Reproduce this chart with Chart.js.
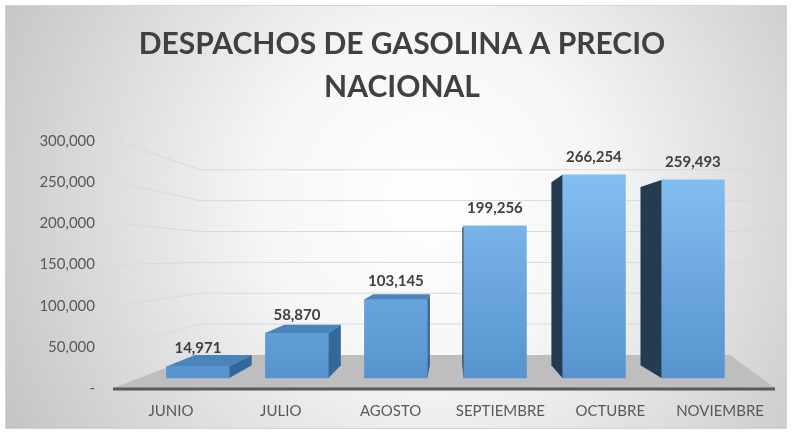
<!DOCTYPE html>
<html>
<head>
<meta charset="utf-8">
<script src="https://cdn.jsdelivr.net/npm/chart.js@4"></script>
<style>
  html, body { margin: 0; padding: 0; background: #fff; }
  #wrap { width: 794px; height: 434px; }
</style>
</head>
<body>
<div id="wrap"><canvas id="despachos" width="794" height="434"></canvas></div>
<script>
// datos del grafico
const meses = ['JUNIO', 'JULIO', 'AGOSTO', 'SEPTIEMBRE', 'OCTUBRE', 'NOVIEMBRE'];
const despachos = [14971, 58870, 103145, 199256, 266254, 259493];
const ticksY = [0, 50000, 100000, 150000, 200000, 250000, 300000];
const titulo = ['DESPACHOS DE GASOLINA A PRECIO', 'NACIONAL'];

const fmt = v => v.toLocaleString('en-US');

// punto de fuga para el efecto 3D
const VP = { x: 452, y: 250 };
const PROF = 0.9;      // profundidad de las barras
const WALL = 0.75;     // profundidad de las paredes

function fuga(x, y, k) {
    return [VP.x + (x - VP.x) * k, VP.y + (y - VP.y) * k];
}

// fondo, paredes, piso y lineas de division
const fondo3d = {
    id: 'fondo3d',
    beforeDraw(chart) {
        const c = chart.ctx;
        c.save();
        c.fillStyle = '#fff';
        c.fillRect(0, 0, chart.width, chart.height);
        const g = c.createRadialGradient(430, 200, 0, 430, 200, 480);
        g.addColorStop(0, '#ffffff');
        g.addColorStop(0.35, '#f6f6f6');
        g.addColorStop(1, '#c4c4c4');
        c.fillStyle = g;
        c.fillRect(5, 5, 782, 424);
        c.strokeStyle = '#d4d4d4';
        c.lineWidth = 1;
        c.strokeRect(5.5, 5.5, 781, 423);
        c.restore();
    },
    beforeDatasetsDraw(chart) {
        const c = chart.ctx;
        const a = chart.chartArea;
        const y = chart.scales.y;
        const wy = 256;
        const backX = x => 200 + (x - a.left) * (530 / (a.right - a.left));
        c.save();
        // lineas de division
        c.strokeStyle = '#d9d9d9';
        c.lineWidth = 1;
        y.ticks.forEach(t => {
            if (t.value === 0) return;
            const fy = y.getPixelForValue(t.value);
            const by = wy + (fy - wy) * WALL;
            c.beginPath();
            c.moveTo(a.left, fy);
            c.lineTo(backX(a.left), by);
            c.lineTo(a.right + 5, by);
            c.stroke();
        });
        // piso
        const fy0 = y.getPixelForValue(0);
        const by0 = wy + (fy0 - wy) * WALL;
        c.fillStyle = '#bebebe';
        c.beginPath();
        c.moveTo(a.left - 3, fy0);
        c.lineTo(backX(a.left), by0);
        c.lineTo(backX(a.right), by0);
        c.lineTo(a.right, fy0);
        c.closePath();
        c.fill();
        c.strokeStyle = '#595959';
        c.lineWidth = 3;
        c.beginPath();
        c.moveTo(a.left - 3, fy0 + 1);
        c.lineTo(a.right, fy0 + 1);
        c.stroke();
        c.restore();
    },
    afterDatasetsDraw(chart) {
        const c = chart.ctx;
        const barras = chart.getDatasetMeta(0).data;
        c.save();
        barras.forEach((b, i) => {
            const L = b.x - b.width / 2, R = b.x + b.width / 2;
            const T = b.y, B = b.base;
            const [Lb, Tb] = fuga(L, T, PROF);
            const [Rb, Bb] = fuga(R, B, PROF);
            // cara superior
            if (T > VP.y) {
                c.fillStyle = '#4a84bd';
                c.beginPath();
                c.moveTo(L, T); c.lineTo(R, T); c.lineTo(Rb, Tb); c.lineTo(Lb, Tb);
                c.closePath(); c.fill();
            }
            // cara lateral derecha
            if (R < VP.x) {
                c.fillStyle = '#34679a';
                c.beginPath();
                c.moveTo(R, T); c.lineTo(Rb, Tb); c.lineTo(Rb, Bb); c.lineTo(R, B);
                c.closePath(); c.fill();
            }
            // cara lateral izquierda
            if (L > VP.x) {
                const [, Bl] = fuga(L, B, PROF);
                c.fillStyle = '#243b52';
                c.beginPath();
                c.moveTo(L, T); c.lineTo(Lb, Tb); c.lineTo(Lb, Bl); c.lineTo(L, B);
                c.closePath(); c.fill();
            }
            // etiqueta de valor
            c.fillStyle = '#404040';
            c.font = 'bold 15px Lato, sans-serif';
            c.textAlign = 'center';
            c.textBaseline = 'middle';
            c.fillText(fmt(despachos[i]), b.x, T - 18);
        });
        c.restore();
    }
};

new Chart(document.getElementById('despachos'), {
    type: 'bar',
    data: {
        labels: meses,
        datasets: [{
            data: despachos.map((v, i) => ({ x: i, y: v })),
            xAxisID: 'xBarras',
            yAxisID: 'yBarras',
            barThickness: 63,
            backgroundColor: ctx => {
                const area = ctx.chart.chartArea;
                if (!area) return '#5b9bd5';
                const g = ctx.chart.ctx.createLinearGradient(0, area.top, 0, area.bottom);
                g.addColorStop(0, '#8ac6f7');
                g.addColorStop(1, '#5591cc');
                return g;
            }
        }]
    },
    options: {
        responsive: false,
        animation: false,
        layout: { padding: { left: 29, right: 19, top: 0, bottom: 0 } },
        plugins: {
            legend: { display: false },
            tooltip: { enabled: false },
            title: {
                display: true,
                text: titulo,
                color: '#404040',
                font: { family: 'Lato', size: 30, weight: 'bold', lineHeight: 43 / 30 },
                padding: { top: 23, bottom: 32 }
            }
        },
        scales: {
            x: {
                type: 'category',
                labels: meses,
                offset: true,
                grid: { display: false, drawTicks: false },
                border: { display: false },
                ticks: { color: '#595959', font: { family: 'Lato', size: 15 }, padding: 14 },
                afterFit: s => { s.height = 46; }
            },
            y: {
                min: 0,
                max: 300000,
                afterBuildTicks: s => { s.ticks = ticksY.map(v => ({ value: v })); },
                grid: { display: false, drawTicks: false },
                border: { display: false },
                ticks: {
                    color: '#595959',
                    font: { family: 'Lato', size: 15 },
                    padding: 21,
                    callback: v => v === 0 ? '-' : fmt(v)
                },
                afterFit: s => { s.width = 87; }
            },
            xBarras: {
                type: 'linear',
                display: false,
                offset: false,
                min: -0.828,
                max: 5.829
            },
            yBarras: {
                type: 'linear',
                display: false,
                min: -13100,
                max: 310480
            }
        }
    },
    plugins: [fondo3d]
});
</script>
</body>
</html>
